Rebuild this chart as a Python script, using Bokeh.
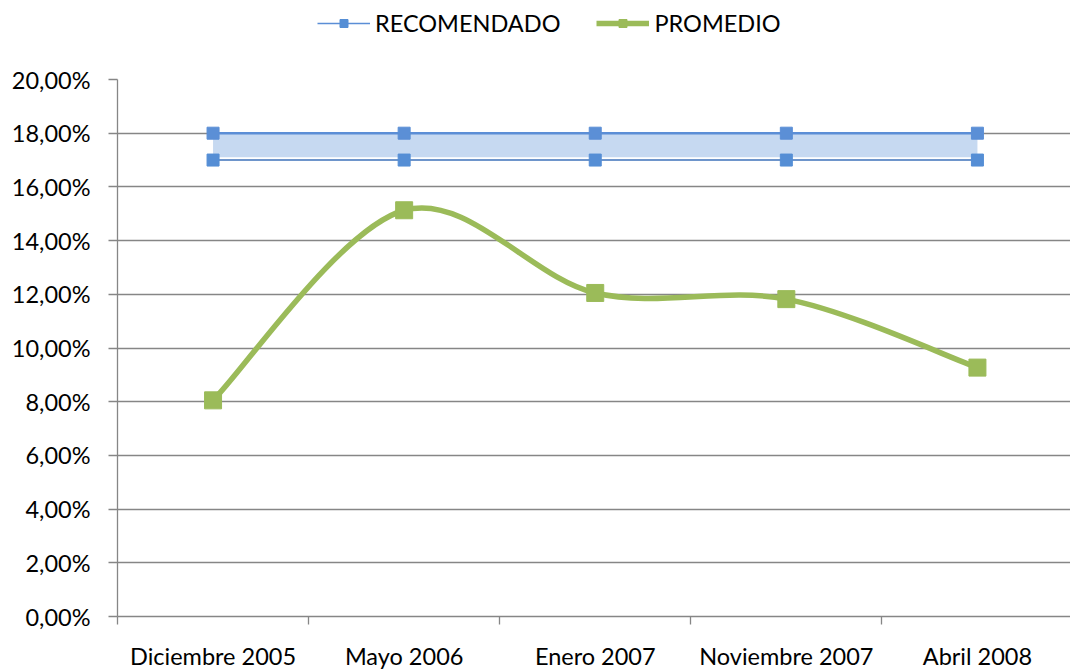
from bokeh.plotting import figure
from bokeh.models import (FixedTicker, Legend, LegendItem, Range1d)
from bokeh.layouts import column
from bokeh.embed import file_html
from bokeh.resources import INLINE

categories = ["Diciembre 2005", "Mayo 2006", "Enero 2007", "Noviembre 2007", "Abril 2008"]
recomendado_alto = [18.0, 18.0, 18.0, 18.0, 18.0]
recomendado_bajo = [17.0, 17.0, 17.0, 17.0, 17.0]
banda_inferior = [17.1, 17.1, 17.1, 17.1, 17.1]
promedio = [8.05, 15.13, 12.05, 11.82, 9.27]
y_ticks = [0, 2, 4, 6, 8, 10, 12, 14, 16, 18, 20]
series_names = ["RECOMENDADO", "PROMEDIO"]

FONT = "Lato"
FSIZE = "23.5px"
xs = [i + 1 for i in range(len(categories))]
green = "#9BBB59"

p = figure(width=1070, height=612, output_backend="svg", toolbar_location=None,
           x_range=Range1d(0.5, 5.487), y_range=Range1d(0, 20),
           min_border_left=117, min_border_right=0, min_border_bottom=53,
           min_border_top=19)
p.outline_line_color = None
p.background_fill_color = "white"

# grid
p.xgrid.grid_line_color = None
p.ygrid.ticker = FixedTicker(ticks=y_ticks)
p.ygrid.grid_line_color = "#868686"
p.ygrid.grid_line_width = 1.3

# y axis
p.yaxis.ticker = FixedTicker(ticks=y_ticks)
p.yaxis.major_label_overrides = {t: f"{t:.2f}".replace(".", ",") + "%" for t in y_ticks}
p.yaxis.axis_line_color = "#868686"
p.yaxis.axis_line_width = 1.3
p.yaxis.major_tick_line_color = "#868686"
p.yaxis.major_tick_line_width = 1.3
p.yaxis.major_tick_out = 9
p.yaxis.major_tick_in = 0
p.yaxis.minor_tick_line_color = None
p.yaxis.major_label_text_font = FONT
p.yaxis.major_label_text_font_size = FSIZE
p.yaxis.major_label_text_color = "black"
p.yaxis.major_label_standoff = 18

# x axis
p.xaxis.ticker = FixedTicker(ticks=xs, minor_ticks=[0.5, 1.5, 2.5, 3.5, 4.5, 5.5])
p.xaxis.major_label_overrides = {x: c for x, c in zip(xs, categories)}
p.xaxis.axis_line_color = "#868686"
p.xaxis.axis_line_width = 1.3
p.xaxis.major_tick_line_color = None
p.xaxis.major_tick_out = 0
p.xaxis.major_tick_in = 0
p.xaxis.minor_tick_line_color = "#868686"
p.xaxis.minor_tick_line_width = 1.3
p.xaxis.minor_tick_out = 8
p.xaxis.minor_tick_in = 0
p.xaxis.major_label_text_font = FONT
p.xaxis.major_label_text_font_size = FSIZE
p.xaxis.major_label_text_color = "black"
p.xaxis.major_label_standoff = 17

# recommended band
p.varea(x=xs, y1=banda_inferior, y2=recomendado_alto, fill_color="#C6D9F1")
p.line(xs, recomendado_alto, line_color="#5B8ED6", line_width=2.5)
p.line(xs, recomendado_bajo, line_color="#3F73BA", line_width=1.5)
p.scatter(xs, recomendado_alto, marker="square", size=12,
          fill_color="#5B8FD6", line_color="#5B8FD6")
p.scatter(xs, recomendado_bajo, marker="square", size=12,
          fill_color="#558ED5", line_color="#558ED5")

# smoothed promedio curve (Catmull-Rom Bezier through the data points)
n = len(xs)
pts = list(zip(xs, promedio))
x0, y0, x1, y1, cx0, cy0, cx1, cy1 = [], [], [], [], [], [], [], []
for i in range(n - 1):
    pm = pts[i - 1] if i > 0 else pts[i]
    pa = pts[i]
    pb = pts[i + 1]
    pn = pts[i + 2] if i + 2 < n else pts[i + 1]
    x0.append(pa[0]); y0.append(pa[1])
    x1.append(pb[0]); y1.append(pb[1])
    cx0.append(pa[0] + (pb[0] - pm[0]) / 6); cy0.append(pa[1] + (pb[1] - pm[1]) / 6)
    cx1.append(pb[0] - (pn[0] - pa[0]) / 6); cy1.append(pb[1] - (pn[1] - pa[1]) / 6)
p.bezier(x0=x0, y0=y0, x1=x1, y1=y1, cx0=cx0, cy0=cy0, cx1=cx1, cy1=cy1,
         line_color=green, line_width=5.5)
p.scatter(xs, promedio, marker="square", size=17, fill_color=green,
          line_color=green)

# legend in its own strip above the plot (proxy glyphs sit outside its range)
lf = figure(width=1070, height=60, output_backend="svg", toolbar_location=None,
            x_axis_type=None, y_axis_type=None, x_range=Range1d(0, 1), y_range=Range1d(0, 1),
            min_border_left=0, min_border_right=0, min_border_top=0, min_border_bottom=0)
lf.outline_line_color = None
lf.xgrid.grid_line_color = None
lf.ygrid.grid_line_color = None
leg_r_line = lf.line([5, 6], [5, 5], line_color="#5B8ED6", line_width=1.5)
leg_r_mk = lf.scatter([5], [5], marker="square", size=12, fill_color="#558ED5",
                      line_color="#558ED5")
leg_g_line = lf.line([5, 6], [5, 5], line_color=green, line_width=5.5)
leg_g_mk = lf.scatter([5], [5], marker="square", size=15, fill_color=green,
                      line_color=green)
legend = Legend(items=[LegendItem(label=series_names[0], renderers=[leg_r_line, leg_r_mk]),
                       LegendItem(label=series_names[1], renderers=[leg_g_line, leg_g_mk])],
                orientation="horizontal", location=(200, 23),
                label_text_font=FONT, label_text_font_size=FSIZE,
                label_text_color="black", glyph_width=53, glyph_height=20,
                label_standoff=5, spacing=36, padding=0, margin=0,
                border_line_color=None, background_fill_alpha=0)
lf.add_layout(legend, "center")

layout = column(lf, p, spacing=0)
open("out.html", "w").write(file_html(layout, INLINE))
